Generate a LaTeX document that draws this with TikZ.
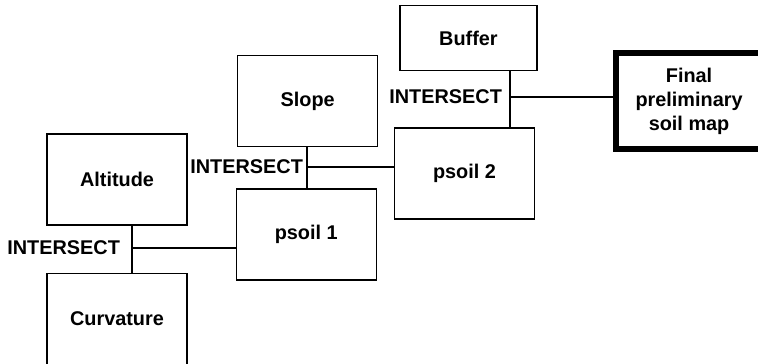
\documentclass[tikz,border=0pt]{standalone}
\usepackage{fontspec}
\setmainfont{Liberation Sans}
\usetikzlibrary{positioning}
\tikzset{
  box/.style={draw, line width=0.7pt, minimum width=2.8cm, minimum height=1.82cm, font=\fontsize{11.3}{13.6}\selectfont\bfseries},
  boxFinal/.style={box, line width=3.4pt, minimum width=2.92cm, minimum height=1.92cm, align=center},
  link/.style={line width=0.7pt},
  opLabel/.style={font=\fontsize{11.3}{13.6}\selectfont\bfseries, inner sep=1pt, anchor=east}
}

\begin{document}
\begin{tikzpicture}[node distance=1cm]
  \useasboundingbox (0,0) rectangle (15.16,-7.28);
  \node[box] (altitude) at (2.34,-3.59) {Altitude};
  \node[box, below=0.94cm of altitude] (curvature) {Curvature};
  \node[box, right=0.96cm of altitude, yshift=-1.1cm] (psoil1) {psoil 1};
  \node[box, above=0.82cm of psoil1, xshift=0.03cm] (slope) {Slope};
  \node[box, right=0.34cm of psoil1, yshift=1.22cm] (psoil2) {psoil 2};
  \node[box, above=1.12cm of psoil2, xshift=0.08cm, minimum width=2.74cm, minimum height=1.3cm] (buffer) {Buffer};
  \node[boxFinal, right=1.56cm of psoil2, yshift=1.45cm] (final) {Final\\preliminary\\soil map};

  % join points
  \coordinate (join1) at (2.64,-4.96);
  \coordinate (join2) at (6.14,-3.34);
  \coordinate (join3) at (10.2,-1.94);

  \draw[link] (altitude.south -| join1) -- (curvature.north -| join1);
  \draw[link] (join1) -- (join1 -| psoil1.west);
  \node[opLabel] (op1) at ([xshift=-0.2cm]join1) {INTERSECT};

  \draw[link] (slope.south -| join2) -- (psoil1.north -| join2);
  \draw[link] (join2) -- (join2 -| psoil2.west);
  \node[opLabel] (op2) at ([xshift=-0.04cm]join2) {INTERSECT};

  \draw[link] (buffer.south -| join3) -- (psoil2.north -| join3);
  \draw[link] (join3) -- (join3 -| final.west);
  \node[opLabel] (op3) at ([xshift=-0.12cm]join3) {INTERSECT};
\end{tikzpicture}
\end{document}
